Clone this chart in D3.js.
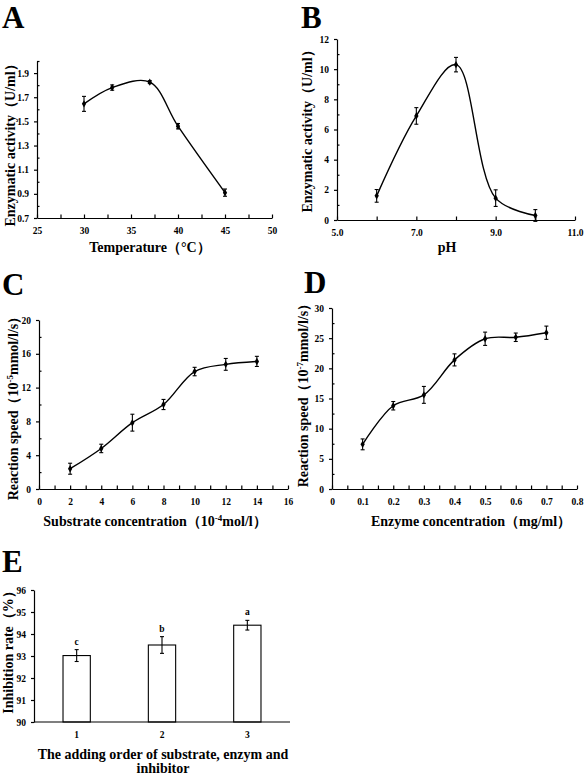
<!DOCTYPE html>
<html><head><meta charset="utf-8">
<script src="https://cdn.jsdelivr.net/npm/d3@7"></script>
<style>
body{margin:0;background:#fff;}
svg text{font-family:"Liberation Serif","Times New Roman",serif;font-weight:bold;fill:#000;}
</style></head>
<body><svg id="c" width="588" height="775"></svg>
<script>
// ---- data ----
const tempX = [30, 33, 37, 40, 45];
const tempY = [1.645, 1.78, 1.825, 1.46, 0.91];
const tempErr = [0.062, 0.022, 0.012, 0.022, 0.03];
const tempXTicks = [25, 27.5, 30, 32.5, 35, 37.5, 40, 42.5, 45, 47.5, 50];
const tempXLabels = [25, 30, 35, 40, 45, 50];
const tempYLabels = [0.7, 0.9, 1.1, 1.3, 1.5, 1.7, 1.9];

const phX = [6, 7, 8, 9, 10];
const phY = [1.6, 6.9, 10.3, 1.45, 0.3];
const phErr = [0.42, 0.55, 0.48, 0.55, 0.39];
const phXTicks = [5, 6, 7, 8, 9, 10, 11];
const phXLabels = [5, 7, 9, 11];
const phYLabels = [0, 2, 4, 6, 8, 10, 12];

const subX = [2, 4, 6, 8, 10, 12, 14];
const subY = [2.4, 4.8, 7.85, 10.0, 13.9, 14.75, 15.1];
const subErr = [0.65, 0.5, 1.0, 0.6, 0.5, 0.7, 0.6];
const subXTicks = d3.range(0, 17, 1);
const subXLabels = [0, 2, 4, 6, 8, 10, 12, 14, 16];
const subYLabels = [0, 4, 8, 12, 16, 20];

const enzX = [0.1, 0.2, 0.3, 0.4, 0.5, 0.6, 0.7];
const enzY = [7.4, 13.8, 15.6, 21.4, 24.9, 25.15, 25.9];
const enzErr = [0.9, 0.7, 1.4, 1.0, 1.1, 0.7, 1.1];
const enzXTicks = [0, 0.05, 0.1, 0.15, 0.2, 0.25, 0.3, 0.35, 0.4, 0.45, 0.5, 0.55, 0.6, 0.65, 0.7, 0.75, 0.8];
const enzXLabels = [0, 0.1, 0.2, 0.3, 0.4, 0.5, 0.6, 0.7, 0.8];
const enzYLabels = [0, 5, 10, 15, 20, 25, 30];

const orderCats = ["1", "2", "3"];
const inhibRate = [93.02, 93.5, 94.4];
const inhibErr = [0.27, 0.38, 0.22];
const sigLetters = ["c", "b", "a"];
const inhibYLabels = [90, 91, 92, 93, 94, 95, 96];

const svg = d3.select("#c");

function letter(t, x, y) {
  svg.append("text").attr("x", x).attr("y", y).attr("font-size", 31).text(t);
}
function yTitle(parts, cx, cy) {
  const t = svg.append("text").attr("transform", `translate(${cx},${cy}) rotate(-90)`)
    .attr("text-anchor", "middle").attr("dy", "0.35em").attr("font-size", 14);
  parts.forEach(p => {
    const s = t.append("tspan").text(p.t);
    if (p.sup) s.attr("font-size", 9).attr("dy", -5);
    if (p.after) s.attr("dy", 5);
  });
}
function xTitle(parts, cx, y) {
  const t = svg.append("text").attr("x", cx).attr("y", y).attr("text-anchor", "middle").attr("font-size", 14);
  parts.forEach(p => {
    const s = t.append("tspan").text(p.t);
    if (p.sup) s.attr("font-size", 9).attr("dy", -5);
    if (p.after) s.attr("dy", 5);
  });
}

function linePanel(cfg) {
  const x = d3.scaleLinear().domain(cfg.xDom).range([cfg.l, cfg.r]);
  const y = d3.scaleLinear().domain(cfg.yDom).range([cfg.b, cfg.t]);
  const g = svg.append("g");
  g.append("g").attr("transform", `translate(0,${cfg.b})`)
    .call(d3.axisBottom(x).tickValues(cfg.xTicks).tickSize(-3.5).tickSizeOuter(0).tickFormat(""));
  g.append("g").attr("transform", `translate(0,${cfg.b})`)
    .call(d3.axisBottom(x).tickValues(cfg.xLabels).tickSize(0).tickPadding(9).tickFormat(cfg.xFmt))
    .call(a => a.select(".domain").remove());
  g.append("g").attr("transform", `translate(${cfg.l},0)`)
    .call(d3.axisLeft(y).tickValues(cfg.yLabels).tickSize(3).tickSizeOuter(0).tickPadding(5).tickFormat(cfg.yFmt));
  if (cfg.yMinor) g.append("g").attr("transform", `translate(${cfg.l},0)`)
    .call(d3.axisLeft(y).tickValues(cfg.yMinor).tickSize(-2.5).tickSizeOuter(0).tickFormat(""))
    .call(a => a.select(".domain").remove());
  g.selectAll(".tick text").attr("font-size", 9.5).attr("font-family", "Liberation Serif").attr("font-weight", "bold");
  g.selectAll("path.domain, .tick line").attr("stroke", "#000").attr("stroke-width", 1.2);

  const pts = cfg.xs.map((v, i) => [v, cfg.ys[i], cfg.es[i]]);
  g.append("path").attr("d", d3.line().x(d => x(d[0])).y(d => y(d[1])).curve(d3.curveCatmullRom.alpha(0.5))(pts))
    .attr("fill", "none").attr("stroke", "#000").attr("stroke-width", 1.4);
  const eb = g.selectAll("g.eb").data(pts).join("g");
  eb.append("line").attr("x1", d => x(d[0])).attr("x2", d => x(d[0]))
    .attr("y1", d => y(d[1] - d[2])).attr("y2", d => y(d[1] + d[2])).attr("stroke", "#000").attr("stroke-width", 1.1);
  [1, -1].forEach(s => eb.append("line").attr("x1", d => x(d[0]) - 2).attr("x2", d => x(d[0]) + 2)
    .attr("y1", d => y(d[1] + s * d[2])).attr("y2", d => y(d[1] + s * d[2])).attr("stroke", "#000").attr("stroke-width", 1.1));
  eb.append("path").attr("transform", d => `translate(${x(d[0])},${y(d[1])})`)
    .attr("d", d3.symbol(d3.symbolDiamond, 16)).attr("fill", "#000");
}

// Panel A
letter("A", 2, 28);
linePanel({ l: 37, r: 272, t: 61, b: 218, xDom: [25, 50], yDom: [0.7, 2.0],
  xTicks: tempXTicks, xLabels: tempXLabels, xFmt: d3.format("d"),
  yLabels: tempYLabels, yFmt: d3.format(".1f"), yMinor: [0.8, 1.0, 1.2, 1.4, 1.6, 1.8, 2.0],
  xs: tempX, ys: tempY, es: tempErr });
yTitle([{ t: "Enzymatic activity（U/ml）" }], 10, 142);
xTitle([{ t: "Temperature（°C）" }], 150, 252);

// Panel B
letter("B", 301, 28);
linePanel({ l: 337, r: 575, t: 39, b: 220, xDom: [5, 11], yDom: [0, 12],
  xTicks: phXTicks, xLabels: phXLabels, xFmt: d3.format(".1f"),
  yLabels: phYLabels, yFmt: d3.format("d"), yMinor: [1, 3, 5, 7, 9, 11],
  xs: phX, ys: phY, es: phErr });
yTitle([{ t: "Enzymatic activity（U/ml）" }], 307, 128);
xTitle([{ t: "pH" }], 447, 252);

// Panel C
letter("C", 2, 295);
linePanel({ l: 39, r: 288, t: 320, b: 489, xDom: [0, 16], yDom: [0, 20],
  xTicks: subXTicks, xLabels: subXLabels, xFmt: d3.format("d"),
  yLabels: subYLabels, yFmt: d3.format("d"), yMinor: [2, 6, 10, 14, 18],
  xs: subX, ys: subY, es: subErr });
yTitle([{ t: "Reaction speed（10" }, { t: "-5", sup: true }, { t: "mmol/l/s）", after: true }], 13, 405);
xTitle([{ t: "Substrate concentration（10" }, { t: "-4", sup: true }, { t: "mol/l）", after: true }], 155, 526);

// Panel D
letter("D", 304, 293);
linePanel({ l: 332, r: 577, t: 308, b: 489, xDom: [0, 0.8], yDom: [0, 30],
  xTicks: enzXTicks, xLabels: enzXLabels, xFmt: d => d === 0 ? "0" : d3.format(".1f")(d),
  yLabels: enzYLabels, yFmt: d3.format("d"), yMinor: [2.5, 7.5, 12.5, 17.5, 22.5, 27.5],
  xs: enzX, ys: enzY, es: enzErr });
yTitle([{ t: "Reaction speed（10" }, { t: "-7", sup: true }, { t: "mmol/l/s）", after: true }], 303, 392);
xTitle([{ t: "Enzyme concentration（mg/ml）" }], 471, 526);

// Panel E
letter("E", 2, 572);
(function () {
  const l = 34, r = 290, t = 590, b = 722;
  const x = d3.scaleBand().domain(orderCats).range([l, r]).paddingInner(0.68).paddingOuter(0.34);
  const y = d3.scaleLinear().domain([90, 96]).range([b, t]);
  const g = svg.append("g");
  const data = orderCats.map((c, i) => ({ c, v: inhibRate[i], e: inhibErr[i], s: sigLetters[i] }));
  g.selectAll("rect").data(data).join("rect")
    .attr("x", d => x(d.c)).attr("width", x.bandwidth())
    .attr("y", d => y(d.v)).attr("height", d => y(90) - y(d.v))
    .attr("fill", "#fff").attr("stroke", "#000").attr("stroke-width", 1.1);
  const cx = d => x(d.c) + x.bandwidth() / 2;
  g.selectAll("line.e").data(data).join("line").attr("x1", cx).attr("x2", cx)
    .attr("y1", d => y(d.v - d.e)).attr("y2", d => y(d.v + d.e)).attr("stroke", "#000").attr("stroke-width", 1.1);
  [1, -1].forEach(s => g.selectAll(null).data(data).join("line")
    .attr("x1", d => cx(d) - 2).attr("x2", d => cx(d) + 2)
    .attr("y1", d => y(d.v + s * d.e)).attr("y2", d => y(d.v + s * d.e)).attr("stroke", "#000").attr("stroke-width", 1.1));
  g.selectAll("text.sig").data(data).join("text").attr("x", cx).attr("y", d => y(d.v + d.e) - 5)
    .attr("text-anchor", "middle").attr("font-size", 9.5).text(d => d.s);
  g.append("g").attr("transform", `translate(0,${b})`)
    .call(d3.axisBottom(x).tickSize(0).tickSizeOuter(0).tickPadding(9))
    .call(a => a.select(".domain").attr("d", `M${l},0H${r}`));
  g.append("g").attr("transform", `translate(${l},0)`)
    .call(d3.axisLeft(y).tickValues(inhibYLabels).tickSize(3).tickSizeOuter(0).tickPadding(5).tickFormat(d3.format("d")));
  g.selectAll(".tick text").attr("font-size", 9.5).attr("font-family", "Liberation Serif").attr("font-weight", "bold");
  g.selectAll("path.domain, .tick line").attr("stroke", "#000").attr("stroke-width", 1.2);
})();
yTitle([{ t: "Inhibition rate（%）" }], 8, 649);
xTitle([{ t: "The adding order of substrate, enzym and" }], 163, 759);
xTitle([{ t: "inhibitor" }], 163, 773);
</script></body></html>
